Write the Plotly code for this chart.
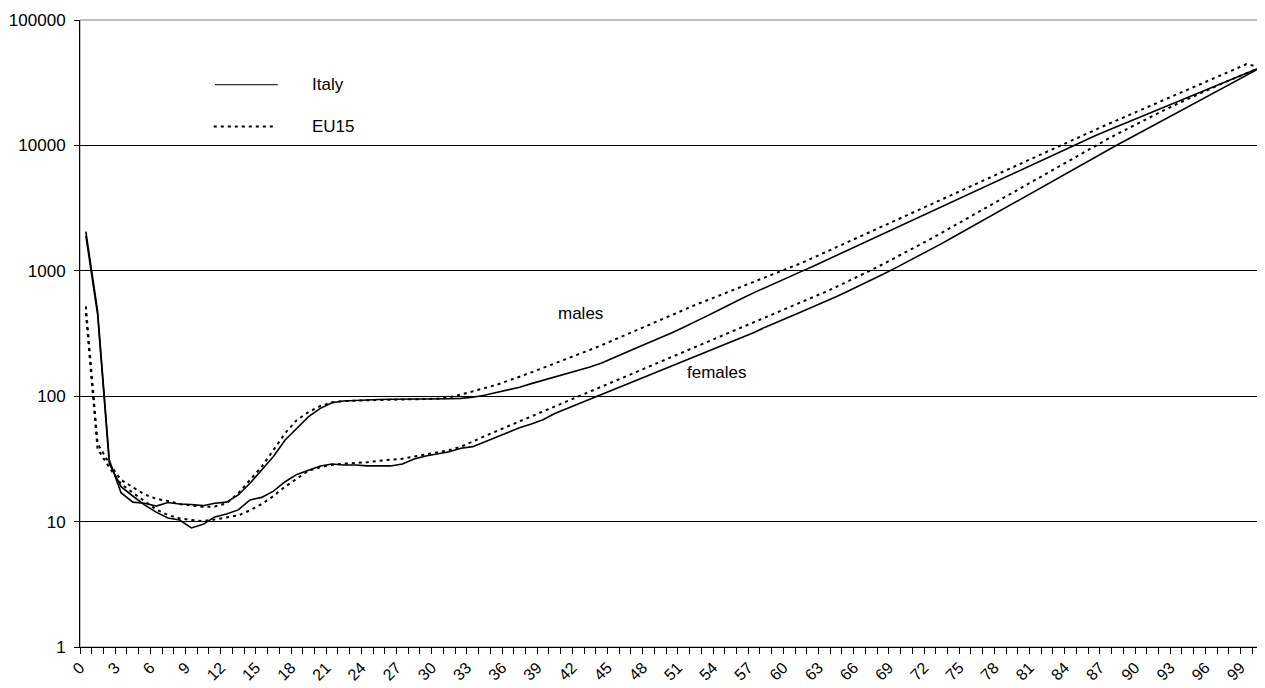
import plotly.graph_objects as go

# ages 0..100
ages = list(range(101))

italy_males = [
    2050, 480, 31, 17, 14.3, 14.0, 13.3, 14.2, 13.8, 13.7,
    13.4, 14.0, 14.3, 16.3, 20.2, 25.8, 33, 44.8, 56, 68.7,
    80, 88.7, 91.5, 92.7, 93.3, 94, 94.5, 94.5, 94.5, 95,
    95, 95.5, 96, 98, 101.7, 106.7, 111, 118, 126, 134,
    143, 151, 160, 171, 184, 201, 221, 243, 267, 292,
    321, 355, 392, 437, 487, 545, 605, 670, 740, 815,
    900, 985, 1083, 1197, 1324, 1463, 1617, 1788, 1976, 2184,
    2415, 2669, 2950, 3261, 3605, 3985, 4405, 4869, 5382, 5949,
    6576, 7268, 8034, 8881, 9817, 10840, 11850, 12950, 14160, 15480,
    16910, 18490, 20210, 22090, 24150, 26400, 28850, 31540, 34480, 37690,
    41200,
]

italy_females = [
    1900, 450, 29, 19.0, 16.0, 13.6, 11.9, 10.7, 10.3, 8.9,
    9.5, 10.9, 11.5, 12.4, 14.9, 15.6, 17.5, 20.8, 23.8, 25.8,
    27.8, 28.8, 28.3, 28.3, 27.8, 27.8, 27.8, 28.8, 31.6, 33.4,
    34.6, 36.1, 38.4, 39.6, 43.1, 47.0, 51.3, 56.0, 60, 65,
    72.8, 79.5, 86.7, 94.6, 103, 113, 123, 135, 146, 160,
    175, 191, 208, 227, 248, 270, 295, 322, 357, 393,
    429, 469, 514, 565, 622, 687, 760, 843, 938, 1045,
    1167, 1306, 1466, 1648, 1858, 2099, 2371, 2679, 3027, 3420,
    3864, 4365, 4932, 5572, 6295, 7112, 8017, 9016, 10120, 11350,
    12740, 14290, 16030, 17990, 20180, 22650, 25410, 28510, 31990, 35890,
    40600,
]

eu15_males = [
    520, 42, 29, 21.5, 18.8, 16.5, 15.2, 14.6, 13.8, 13.4,
    13.1, 13.2, 14.0, 16.8, 21.5, 27.4, 37.2, 50.6, 64.6, 74.8,
    83.5, 89.4, 91.5, 92.7, 92.7, 93.3, 94, 94, 94.5, 95,
    95.5, 98, 103, 110, 116, 123, 132, 143, 155, 168,
    182, 198, 215, 234, 255, 280, 307, 337, 370, 405,
    444, 488, 535, 582, 633, 688, 748, 813, 884, 962,
    1050, 1150, 1265, 1395, 1540, 1700, 1875, 2070, 2285, 2520,
    2780, 3070, 3385, 3735, 4120, 4540, 5010, 5520, 6080, 6700,
    7380, 8130, 8970, 9890, 10890, 11990, 13210, 14520, 15920, 17500,
    19190, 21090, 23120, 25410, 27860, 30620, 33570, 36900, 40460, 44460,
    42460,
]

eu15_females = [
    460, 38, 27, 20, 17, 14.5, 12.5, 11.3, 10.6, 10.3,
    10.1, 10.4, 10.8, 11.2, 12.3, 13.8, 16, 19, 22, 25.5,
    27.1, 28.4, 29, 29.2, 29.7, 30.6, 31, 31.7, 33, 34.2,
    35.4, 37.2, 39.5, 43.8, 47.9, 52.5, 57.5, 63.0, 68.9, 75.5,
    82.6, 90.5, 99.1, 108, 119, 130, 142, 156, 171, 187,
    205, 224, 245, 269, 294, 322, 353, 386, 423, 463,
    507, 556, 611, 673, 743, 822, 912, 1014, 1130, 1262,
    1413, 1585, 1782, 2009, 2270, 2564, 2897, 3273, 3698, 4178,
    4721, 5333, 6026, 6808, 7691, 8690, 9795, 11020, 12360, 13840,
    15450, 17220, 19140, 21230, 23500, 25940, 28580, 31410, 34430, 37670,
    40930,
]

x_tick_vals = list(range(0, 100, 3))
x_tick_text = [str(v) for v in x_tick_vals]
y_tick_vals = [1, 10, 100, 1000, 10000, 100000]
y_tick_text = [str(v) for v in y_tick_vals]

FONT = "Arial, Liberation Sans, sans-serif"
DOTS = "3px,4px"
FS = 17

fig = go.Figure()
for ys in (italy_males, italy_females):
    fig.add_trace(go.Scatter(x=ages, y=ys, mode="lines",
                             line=dict(color="black", width=1.6),
                             showlegend=False, hoverinfo="skip"))
for ys in (eu15_males, eu15_females):
    fig.add_trace(go.Scatter(x=ages, y=ys, mode="lines",
                             line=dict(color="black", width=2, dash=DOTS),
                             showlegend=False, hoverinfo="skip"))

# hand-made legend (top left, inside plot)
fig.add_shape(type="line", xref="paper", yref="paper",
              x0=0.114, x1=0.167, y0=0.897, y1=0.897,
              line=dict(color="#333333", width=1.2))
fig.add_shape(type="line", xref="paper", yref="paper",
              x0=0.113, x1=0.166, y0=0.830, y1=0.830,
              line=dict(color="black", width=2, dash=DOTS))
fig.add_annotation(text="Italy", xref="paper", yref="paper", x=0.194, y=0.897,
                   xanchor="left", yanchor="middle", showarrow=False,
                   font=dict(size=FS, color="black", family=FONT))
fig.add_annotation(text="EU15", xref="paper", yref="paper", x=0.194, y=0.830,
                   xanchor="left", yanchor="middle", showarrow=False,
                   font=dict(size=FS, color="black", family=FONT))

# series labels
fig.add_annotation(text="males", x=42.2, y=2.663, showarrow=False,
                   font=dict(size=FS, color="black", family=FONT))
fig.add_annotation(text="females", x=53.8, y=2.193, showarrow=False,
                   font=dict(size=FS, color="black", family=FONT))

# plot area border (grey top/right)
fig.add_shape(type="rect", xref="paper", yref="paper", x0=0, x1=1, y0=0, y1=1,
              line=dict(color="#808080", width=1), layer="below")

# page body adds an 8px offset, so the figure is sized/margined to compensate
fig.update_layout(
    width=1257, height=680,
    margin=dict(l=72, r=1, t=12, b=41),
    paper_bgcolor="white", plot_bgcolor="white",
    font=dict(family=FONT, size=FS, color="black"),
    showlegend=False,
    xaxis=dict(
        range=[-0.5, 100.5], tickmode="array", automargin=False,
        tickvals=x_tick_vals, ticktext=x_tick_text, tickangle=-45,
        ticks="", showgrid=False, zeroline=False,
        showline=True, linecolor="black", linewidth=1,
        ticklabelstandoff=4, ticklabelshift=-6,
        minor=dict(ticks="outside", tickmode="linear", tick0=-0.5, dtick=1,
                   ticklen=6, tickcolor="black", tickwidth=1, showgrid=False),
        tickfont=dict(size=16, family=FONT, color="black"),
    ),
    yaxis=dict(
        type="log", range=[0, 5], tickmode="array", automargin=False,
        tickvals=y_tick_vals, ticktext=y_tick_text,
        ticks="outside", ticklen=5, tickcolor="black",
        ticklabelstandoff=5,
        showgrid=True, gridcolor="black", gridwidth=1,
        showline=True, linecolor="black", linewidth=1, zeroline=False,
        tickfont=dict(size=FS, family=FONT, color="black"),
    ),
)

fig.write_html("out.html")
